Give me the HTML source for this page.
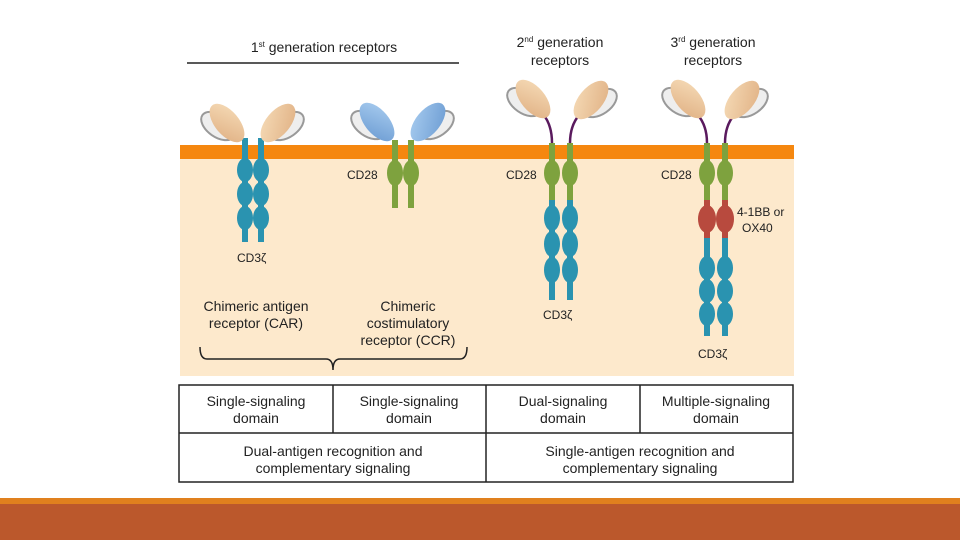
<!DOCTYPE html>
<html><head><meta charset="utf-8"><style>
html,body{margin:0;padding:0;background:#fff;}
svg{display:block;}
text{font-family:"Liberation Sans",sans-serif;fill:#222;}
</style></head><body>
<svg width="960" height="540" viewBox="0 0 960 540" xmlns="http://www.w3.org/2000/svg">
<defs>
<linearGradient id="tan" x1="0" y1="0" x2="1" y2="1"><stop offset="0" stop-color="#f6dcb8"/><stop offset="1" stop-color="#e0b083"/></linearGradient>
<linearGradient id="blu" x1="0" y1="0" x2="1" y2="1"><stop offset="0" stop-color="#a9cdf0"/><stop offset="1" stop-color="#6b9bd2"/></linearGradient>
<g id="headL"><ellipse cx="-9" cy="3" rx="19" ry="11" transform="rotate(35 -9 3)" fill="#eeeeee" stroke="#999" stroke-width="2"/><ellipse cx="0" cy="0" rx="23" ry="12" transform="rotate(50)" fill="url(#tan)"/></g>
<g id="headR"><ellipse cx="9" cy="3" rx="19" ry="11" transform="rotate(-35 9 3)" fill="#eeeeee" stroke="#999" stroke-width="2"/><ellipse cx="0" cy="0" rx="23" ry="12" transform="rotate(-50)" fill="url(#tan)"/></g>
<g id="headLb"><ellipse cx="-9" cy="3" rx="19" ry="11" transform="rotate(35 -9 3)" fill="#eeeeee" stroke="#999" stroke-width="2"/><ellipse cx="0" cy="0" rx="23" ry="12" transform="rotate(50)" fill="url(#blu)"/></g>
<g id="headRb"><ellipse cx="9" cy="3" rx="19" ry="11" transform="rotate(-35 9 3)" fill="#eeeeee" stroke="#999" stroke-width="2"/><ellipse cx="0" cy="0" rx="23" ry="12" transform="rotate(-50)" fill="url(#blu)"/></g>
</defs>

<rect x="180" y="159" width="614" height="217" fill="#fde9cc"/>
<rect x="180" y="145" width="614" height="14" fill="#f5870f"/>

<text x="324" y="52" font-size="14" text-anchor="middle">1<tspan font-size="8" dy="-5">st</tspan><tspan dy="5"> generation receptors</tspan></text>
<line x1="187" y1="63" x2="459" y2="63" stroke="#222" stroke-width="1.5"/>
<text x="560" y="47" font-size="14" text-anchor="middle">2<tspan font-size="8" dy="-5">nd</tspan><tspan dy="5"> generation</tspan></text>
<text x="560" y="65" font-size="14" text-anchor="middle">receptors</text>
<text x="713" y="47" font-size="14" text-anchor="middle">3<tspan font-size="8" dy="-5">rd</tspan><tspan dy="5"> generation</tspan></text>
<text x="713" y="65" font-size="14" text-anchor="middle">receptors</text>

<g fill="#2a93b0">
<rect x="242" y="138" width="6" height="104"/><rect x="258" y="138" width="6" height="104"/>
<ellipse cx="245" cy="170" rx="8" ry="12"/><ellipse cx="245" cy="194" rx="8" ry="12"/><ellipse cx="245" cy="218" rx="8" ry="12"/>
<ellipse cx="261" cy="170" rx="8" ry="12"/><ellipse cx="261" cy="194" rx="8" ry="12"/><ellipse cx="261" cy="218" rx="8" ry="12"/>
</g>
<use href="#headL" x="227" y="123"/><use href="#headR" x="278" y="123"/>
<text x="237" y="262" font-size="12">CD3ζ</text>

<g fill="#7ea23e">
<rect x="392" y="140" width="6" height="68"/><rect x="408" y="140" width="6" height="68"/>
<ellipse cx="395" cy="173" rx="8" ry="13"/><ellipse cx="411" cy="173" rx="8" ry="13"/>
</g>
<use href="#headLb" x="377" y="122"/><use href="#headRb" x="428" y="122"/>
<text x="347" y="179" font-size="12">CD28</text>

<path d="M543 114 Q552 125 552 143" stroke="#5a1a5e" stroke-width="2.5" fill="none"/>
<path d="M580 114 Q570 125 570 143" stroke="#5a1a5e" stroke-width="2.5" fill="none"/>
<g fill="#7ea23e"><rect x="549" y="143" width="6" height="58"/><rect x="567" y="143" width="6" height="58"/>
<ellipse cx="552" cy="173" rx="8" ry="13"/><ellipse cx="570" cy="173" rx="8" ry="13"/></g>
<g fill="#2a93b0"><rect x="549" y="200" width="6" height="100"/><rect x="567" y="200" width="6" height="100"/>
<ellipse cx="552" cy="218" rx="8" ry="13"/><ellipse cx="552" cy="244" rx="8" ry="13"/><ellipse cx="552" cy="270" rx="8" ry="13"/>
<ellipse cx="570" cy="218" rx="8" ry="13"/><ellipse cx="570" cy="244" rx="8" ry="13"/><ellipse cx="570" cy="270" rx="8" ry="13"/></g>
<use href="#headL" x="533" y="99"/><use href="#headR" x="591" y="100"/>
<text x="506" y="179" font-size="12">CD28</text>
<text x="543" y="319" font-size="12">CD3ζ</text>

<path d="M697 114 Q707 125 707 143" stroke="#5a1a5e" stroke-width="2.5" fill="none"/>
<path d="M735 114 Q725 125 725 143" stroke="#5a1a5e" stroke-width="2.5" fill="none"/>
<g fill="#7ea23e"><rect x="704" y="143" width="6" height="58"/><rect x="722" y="143" width="6" height="58"/>
<ellipse cx="707" cy="173" rx="8" ry="13"/><ellipse cx="725" cy="173" rx="8" ry="13"/></g>
<g fill="#b84a3e"><rect x="704" y="200" width="6" height="38"/><rect x="722" y="200" width="6" height="38"/>
<ellipse cx="707" cy="219" rx="9" ry="14"/><ellipse cx="725" cy="219" rx="9" ry="14"/></g>
<g fill="#2a93b0"><rect x="704" y="238" width="6" height="98"/><rect x="722" y="238" width="6" height="98"/>
<ellipse cx="707" cy="268" rx="8" ry="12"/><ellipse cx="707" cy="291" rx="8" ry="12"/><ellipse cx="707" cy="314" rx="8" ry="12"/>
<ellipse cx="725" cy="268" rx="8" ry="12"/><ellipse cx="725" cy="291" rx="8" ry="12"/><ellipse cx="725" cy="314" rx="8" ry="12"/></g>
<use href="#headL" x="688" y="99"/><use href="#headR" x="742" y="100"/>
<text x="661" y="179" font-size="12">CD28</text>
<text x="737" y="216" font-size="12">4-1BB or</text>
<text x="742" y="232" font-size="12">OX40</text>
<text x="698" y="358" font-size="12">CD3ζ</text>

<text x="256" y="311" font-size="14" text-anchor="middle">Chimeric antigen</text>
<text x="256" y="328" font-size="14" text-anchor="middle">receptor (CAR)</text>
<text x="408" y="311" font-size="14" text-anchor="middle">Chimeric</text>
<text x="408" y="328" font-size="14" text-anchor="middle">costimulatory</text>
<text x="408" y="345" font-size="14" text-anchor="middle">receptor (CCR)</text>
<path d="M200 347 Q200 359 207 359 L326 359 Q333 359 333 370 Q333 359 340 359 L460 359 Q467 359 467 347" stroke="#222" stroke-width="1.5" fill="none"/>

<g stroke="#222" stroke-width="1.5" fill="none">
<rect x="179" y="385" width="614" height="97"/>
<line x1="179" y1="433" x2="793" y2="433"/>
<line x1="333" y1="385" x2="333" y2="433"/>
<line x1="486" y1="385" x2="486" y2="482"/>
<line x1="640" y1="385" x2="640" y2="433"/>
</g>
<g font-size="14" text-anchor="middle">
<text x="256" y="406">Single-signaling</text><text x="256" y="423">domain</text>
<text x="409" y="406">Single-signaling</text><text x="409" y="423">domain</text>
<text x="563" y="406">Dual-signaling</text><text x="563" y="423">domain</text>
<text x="716" y="406">Multiple-signaling</text><text x="716" y="423">domain</text>
<text x="333" y="456">Dual-antigen recognition and</text><text x="333" y="473">complementary signaling</text>
<text x="640" y="456">Single-antigen recognition and</text><text x="640" y="473">complementary signaling</text>
</g>

<rect x="0" y="498" width="960" height="6" fill="#e0801e"/>
<rect x="0" y="504" width="960" height="36" fill="#bb582c"/>
</svg>
</body></html>
